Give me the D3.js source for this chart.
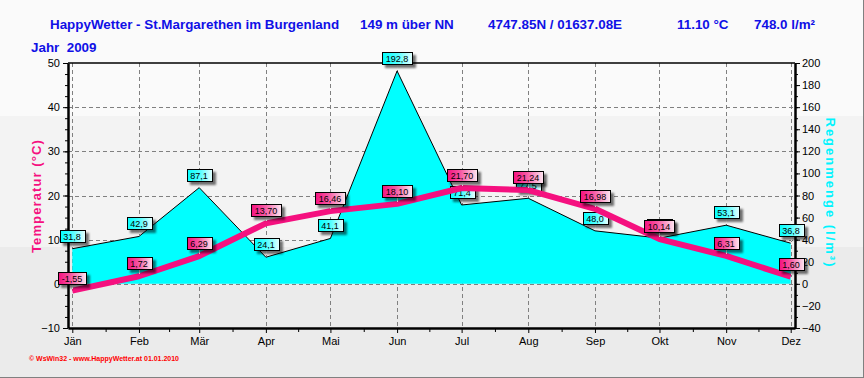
<!DOCTYPE html>
<html>
<head>
<meta charset="utf-8">
<script src="https://cdn.jsdelivr.net/npm/d3@7/dist/d3.min.js"></script>
<style>
  body { margin: 0; padding: 0; background: #fff; }
  svg { display: block; font-family: "Liberation Sans", Arial, sans-serif; }
</style>
</head>
<body>
<div id="chart"></div>
<script>
//
// HappyWetter yearly chart - temperature line + rain area
//

var months = ["Jän", "Feb", "Mär", "Apr", "Mai", "Jun", "Jul", "Aug", "Sep", "Okt", "Nov", "Dez"];
var tempValues = [-1.55, 1.72, 6.29, 13.70, 16.46, 18.10, 21.70, 21.24, 16.98, 10.14, 6.31, 1.60];
var rainValues = [31.8, 42.9, 87.1, 24.1, 41.1, 192.8, 71.4, 77.5, 48.0, 41.4, 53.1, 36.8];
var tempTicks = [-10, 0, 10, 20, 30, 40, 50];
var rainTicks = [-40, -20, 0, 20, 40, 60, 80, 100, 120, 140, 160, 180, 200];

var width = 864;
var height = 378;
var plotLeft = 68, plotRight = 795, plotTop = 63, plotBottom = 328;
var pink = "#f5107f";
var blue = "#1010e6";

var svg = d3.select("#chart")
    .append("svg")
    .attr("width", width)
    .attr("height", height);

var defs = svg.append("defs");

var shadow = defs.append("filter").attr("id", "shadow")
    .attr("x", "-30%").attr("y", "-50%").attr("width", "170%").attr("height", "220%");
shadow.append("feDropShadow")
    .attr("dx", 3).attr("dy", 3)
    .attr("stdDeviation", 1.3)
    .attr("flood-color", "#000")
    .attr("flood-opacity", 0.55);

var gPink = defs.append("linearGradient").attr("id", "gPink");
gPink.append("stop").attr("offset", "0%").attr("stop-color", "#f5107f");
gPink.append("stop").attr("offset", "45%").attr("stop-color", "#f75aa5");
gPink.append("stop").attr("offset", "100%").attr("stop-color", "#fde8f2");

var gCyan = defs.append("linearGradient").attr("id", "gCyan");
gCyan.append("stop").attr("offset", "0%").attr("stop-color", "#00ffff");
gCyan.append("stop").attr("offset", "50%").attr("stop-color", "#55ffff");
gCyan.append("stop").attr("offset", "100%").attr("stop-color", "#e8ffff");

// background bands
svg.append("rect").attr("x", 0).attr("y", 0).attr("width", width).attr("height", 116).attr("fill", "#fafafa");
svg.append("rect").attr("x", 0).attr("y", 116).attr("width", width).attr("height", 131).attr("fill", "#f3f3f3");
svg.append("rect").attr("x", 0).attr("y", 247).attr("width", width).attr("height", 131).attr("fill", "#ebebeb");
svg.append("line").attr("x1", width - 0.5).attr("x2", width - 0.5).attr("y1", 0).attr("y2", height)
    .attr("stroke", "#808080");
svg.append("line").attr("x1", 0).attr("x2", width).attr("y1", height - 0.5).attr("y2", height - 0.5)
    .attr("stroke", "#808080");

// scales
var monthDates = months.map(function (m, i) { return new Date(Date.UTC(2009, i, 1)); });
var x = d3.scaleUtc()
    .domain([new Date(Date.UTC(2008, 11, 30)), new Date(Date.UTC(2009, 11, 3))])
    .range([plotLeft, plotRight]);
var yT = d3.scaleLinear().domain([-10, 50]).range([plotBottom, plotTop]);
var yR = d3.scaleLinear().domain([-40, 200]).range([plotBottom, plotTop]);

// grid
var grid = svg.append("g").attr("stroke", "#808080").attr("stroke-dasharray", "4,3").attr("stroke-width", 1);
grid.selectAll("line.h")
    .data(tempTicks.filter(function (t) { return t > -10 && t < 50; }))
    .enter().append("line")
    .attr("x1", plotLeft).attr("x2", plotRight)
    .attr("y1", function (d) { return Math.round(yT(d)) + 0.5; })
    .attr("y2", function (d) { return Math.round(yT(d)) + 0.5; });
grid.selectAll("line.v")
    .data(monthDates)
    .enter().append("line")
    .attr("x1", function (d) { return Math.round(x(d)) + 0.5; })
    .attr("x2", function (d) { return Math.round(x(d)) + 0.5; })
    .attr("y1", plotTop).attr("y2", plotBottom);

// rain area
var data = months.map(function (m, i) {
    return { date: monthDates[i], month: m, temp: tempValues[i], rain: rainValues[i] };
});

var area = d3.area()
    .x(function (d) { return x(d.date); })
    .y0(yR(0))
    .y1(function (d) { return yR(d.rain); });
svg.append("path").datum(data).attr("d", area).attr("fill", "#00ffff");

var rainLine = d3.line()
    .x(function (d) { return x(d.date); })
    .y(function (d) { return yR(d.rain); });
svg.append("path").datum(data).attr("d", rainLine)
    .attr("fill", "none").attr("stroke", "#000").attr("stroke-width", 1);

// axes
var leftAxis = svg.append("g")
    .attr("transform", "translate(" + plotLeft + ",0)")
    .call(d3.axisLeft(yT).tickValues(tempTicks).tickSize(5).tickSizeOuter(0).tickPadding(3));
svg.append("g")
    .attr("transform", "translate(" + plotLeft + ",0)")
    .call(d3.axisLeft(yT).tickValues(d3.range(-10, 50.1, 2.5)).tickSize(3).tickFormat(""))
    .select(".domain").remove();

var rightAxis = svg.append("g")
    .attr("transform", "translate(" + plotRight + ",0)")
    .call(d3.axisRight(yR).tickValues(rainTicks).tickSize(5).tickSizeOuter(0).tickPadding(2));
svg.append("g")
    .attr("transform", "translate(" + plotRight + ",0)")
    .call(d3.axisRight(yR).tickValues(d3.range(-40, 200.1, 10)).tickSize(3).tickFormat(""))
    .select(".domain").remove();

var midDates = [];
monthDates.forEach(function (d, i) {
    if (i < 11) midDates.push(new Date((d.getTime() + monthDates[i + 1].getTime()) / 2));
});
var bottomAxis = svg.append("g")
    .attr("transform", "translate(0," + plotBottom + ")")
    .call(d3.axisBottom(x).tickValues(monthDates).tickSize(5).tickSizeOuter(0).tickPadding(4)
        .tickFormat(function (d, i) { return months[i]; }));
svg.append("g")
    .attr("transform", "translate(0," + plotBottom + ")")
    .call(d3.axisBottom(x).tickValues(midDates).tickSize(4).tickFormat(""))
    .select(".domain").remove();

[leftAxis, rightAxis, bottomAxis].forEach(function (a) {
    a.select(".domain").attr("stroke-width", 2.5);
    a.selectAll("text").style("font-size", "11px").attr("fill", "#000");
    a.selectAll("line").attr("stroke", "#000");
});

// top border
svg.append("line").attr("x1", plotLeft).attr("x2", plotRight).attr("y1", plotTop).attr("y2", plotTop)
    .attr("stroke", "#000").attr("stroke-width", 1.5);

// value labels
function addLabels(cls, yScale, key, fill) {
    var g = svg.selectAll("g." + cls)
        .data(data)
        .enter().append("g")
        .attr("class", cls)
        .attr("transform", function (d) {
            return "translate(" + Math.round(x(d.date)) + "," + Math.round(yScale(d[key]) - 6) + ")";
        });
    g.append("line")
        .attr("x1", 0.5).attr("x2", 0.5).attr("y1", 0).attr("y2", 4)
        .attr("stroke", "#fff").attr("stroke-width", 1);
    g.append("rect")
        .attr("y", -12.5).attr("height", 12)
        .attr("fill", fill).attr("stroke", "#000").attr("stroke-width", 1)
        .attr("filter", "url(#shadow)");
    var txt = g.append("text")
        .attr("y", -3)
        .attr("text-anchor", "middle")
        .style("font-size", "9px")
        .attr("fill", "#000")
        .text(function (d) {
            return key == "temp" ? d.temp.toFixed(2).replace(".", ",") : d.rain.toFixed(1).replace(".", ",");
        });
    txt.each(function (d) {
        var w = this.getComputedTextLength() + 7;
        d3.select(this.parentNode).select("rect")
            .attr("x", Math.round(-w / 2) + 0.5)
            .attr("width", Math.round(w));
    });
}

addLabels("rainLabel", yR, "rain", "url(#gCyan)");

// temperature line
var tempLine = d3.line()
    .x(function (d) { return x(d.date); })
    .y(function (d) { return yT(d.temp); });
svg.append("path").datum(data).attr("d", tempLine)
    .attr("fill", "none").attr("stroke", pink).attr("stroke-width", 6)
    .attr("stroke-linejoin", "round");

addLabels("tempLabel", yT, "temp", "url(#gPink)");

// axis titles
svg.append("text")
    .attr("transform", "translate(41,196) rotate(-90)")
    .attr("text-anchor", "middle")
    .style("font-size", "13px").style("font-weight", "bold").style("letter-spacing", "1.1px")
    .attr("fill", pink)
    .text("Temperatur  (°C)");
svg.append("text")
    .attr("transform", "translate(826,193) rotate(90)")
    .attr("text-anchor", "middle")
    .style("font-size", "13px").style("font-weight", "bold").style("letter-spacing", "2px")
    .attr("fill", "#00f4ff")
    .text("Regenmenge  (l/m³)");

// header
var header = [
    { x: 50, t: "HappyWetter - St.Margarethen im Burgenland" },
    { x: 360, t: "149 m über NN" },
    { x: 488, t: "4747.85N / 01637.08E" },
    { x: 677, t: "11.10 °C" },
    { x: 754, t: "748.0 l/m²" }
];
svg.selectAll("text.header")
    .data(header)
    .enter().append("text")
    .attr("class", "header")
    .attr("x", function (d) { return d.x; })
    .attr("y", 29)
    .style("font-size", "13.4px").style("font-weight", "bold")
    .attr("fill", blue)
    .text(function (d) { return d.t; });

svg.append("text")
    .attr("x", 31).attr("y", 52)
    .style("font-size", "13.4px").style("font-weight", "bold")
    .attr("fill", blue)
    .style("white-space", "pre")
    .text("Jahr  2009");

svg.append("text")
    .attr("x", 29).attr("y", 361)
    .style("font-size", "7px").style("font-weight", "bold")
    .attr("fill", "#ff0000")
    .attr("textLength", 150)
    .attr("lengthAdjust", "spacingAndGlyphs")
    .text("© WsWin32 - www.HappyWetter.at  01.01.2010");
</script>
</body>
</html>
